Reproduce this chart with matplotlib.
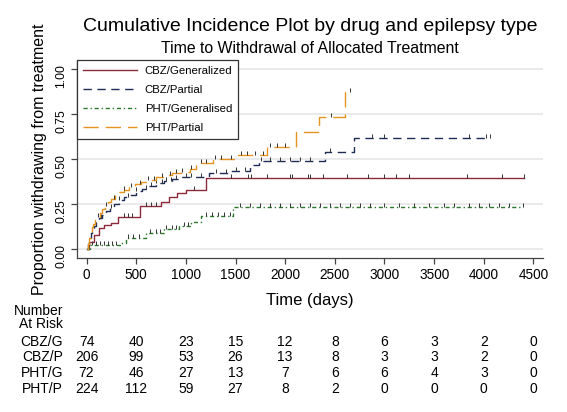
import numpy as np
import matplotlib
matplotlib.use("Agg")
import matplotlib.pyplot as plt
import matplotlib.transforms as mtransforms

plt.rcParams["font.family"] = ["Liberation Sans", "DejaVu Sans"]

# step data (time in days, cumulative incidence)
cbzg_t = [0, 20, 80, 130, 180, 250, 312, 535, 750, 835, 915, 1000, 1205]
cbzg_p = [0, 0.04, 0.078, 0.116, 0.133, 0.146, 0.176, 0.24, 0.263, 0.289, 0.31, 0.328, 0.394]
cbzg_end = 4400
cbzg_cens = [380, 420, 460, 600, 650, 700, 1080, 1456, 1630, 1660, 1821, 2052, 2069,
             2233, 2253, 2384, 2626, 2837, 2998, 3119, 3250, 3833, 4185, 4400]

cbzp_t = [0, 10, 25, 40, 60, 80, 100, 130, 160, 200, 240, 280, 330, 380, 430, 500,
          560, 620, 700, 780, 860, 950, 1237, 1439, 1647, 1740, 2404, 2696]
cbzp_p = [0, 0.03, 0.06, 0.09, 0.11, 0.13, 0.15, 0.17, 0.19, 0.21, 0.23, 0.25, 0.27,
          0.29, 0.30, 0.32, 0.335, 0.35, 0.365, 0.38, 0.39, 0.40, 0.42, 0.435, 0.467,
          0.49, 0.54, 0.615]
cbzp_end = 4062
cbzp_cens = [150, 250, 330, 420, 500, 600, 650, 700, 760, 800, 850, 900, 1000, 1050,
             1150, 1300, 1400, 1500, 1600, 1760, 1850, 1950, 2050, 2150, 2250, 2450,
             2870, 3000, 3850, 4020, 4062]

phtg_t = [0, 30, 332, 400, 600, 785, 935, 1053, 1154, 1472]
phtg_p = [0, 0.022, 0.035, 0.063, 0.087, 0.111, 0.128, 0.15, 0.185, 0.235]
phtg_end = 4390
phtg_cens = [60, 100, 140, 180, 220, 260, 300, 420, 470, 530, 640, 700, 740, 800, 860,
             900, 980, 1020, 1200, 1260, 1320, 1380, 1440, 1550, 1650, 1750, 1850, 1950,
             2050, 2150, 2250, 2350, 2450, 2550, 2650, 2750, 2850, 3000, 3150, 3300,
             3450, 3600, 3700, 3850, 3950, 4050, 4150, 4250, 4390]

phtp_t = [0, 10, 25, 40, 55, 70, 90, 110, 135, 160, 190, 220, 250, 290, 330, 380, 430,
          490, 550, 620, 700, 780, 860, 950, 1040, 1100, 1270, 1506, 1820, 2110, 2344, 2606]
phtp_p = [0, 0.03, 0.06, 0.09, 0.12, 0.14, 0.16, 0.18, 0.20, 0.22, 0.24, 0.26, 0.28,
          0.30, 0.315, 0.33, 0.345, 0.36, 0.37, 0.385, 0.40, 0.41, 0.42, 0.43, 0.445,
          0.476, 0.498, 0.522, 0.565, 0.652, 0.735, 0.87]
phtp_end = 2656
phtp_cens = [120, 200, 280, 380, 450, 540, 620, 680, 760, 840, 900, 960, 1050, 1150,
             1200, 1290, 1350, 1450, 1560, 1620, 1700, 1780, 1850, 1920, 2000, 2460, 2656]

labels = ["CBZ/Generalized", "CBZ/Partial", "PHT/Generalised", "PHT/Partial"]
risk_names = ["CBZ/G", "CBZ/P", "PHT/G", "PHT/P"]
risk_times = [0, 500, 1000, 1500, 2000, 2500, 3000, 3500, 4000, 4500]
risk_cbzg = [74, 40, 23, 15, 12, 8, 6, 3, 2, 0]
risk_cbzp = [206, 99, 53, 26, 13, 8, 3, 3, 2, 0]
risk_phtg = [72, 46, 27, 13, 7, 6, 6, 4, 3, 0]
risk_phtp = [224, 112, 59, 27, 8, 2, 0, 0, 0, 0]

W, H = 567, 412
fig = plt.figure(figsize=(W / 100, H / 100), dpi=100)
ax = fig.add_axes([77 / W, 1 - 258 / H, 466 / W, 198 / H])

colors = ["#8c2a3c", "#1f2d56", "#2b7a2b", "#e69320"]
dashes = [None, (6, 4), (3, 2, 1, 2), (11, 5)]
groups = [(cbzg_t, cbzg_p, cbzg_end, cbzg_cens),
          (cbzp_t, cbzp_p, cbzp_end, cbzp_cens),
          (phtg_t, phtg_p, phtg_end, phtg_cens),
          (phtp_t, phtp_p, phtp_end, phtp_cens)]

for y in [0, 0.25, 0.5, 0.75, 1.0]:
    ax.axhline(y, color="#e8e8e8", lw=1.3, zorder=0)

for (t, p, end, cens), c, d, lab in zip(groups, colors, dashes, labels):
    line, = ax.step(t + [end], p + [p[-1]], where="post", color=c, lw=1.0, label=lab)
    if d is not None:
        line.set_dashes(d)
    # censoring ticks sit on the curve
    idx = np.searchsorted(t, cens, side="right") - 1
    ax.plot(cens, np.array(p)[idx], linestyle="none", marker=2, markersize=3,
            mew=0.7, color="#333333")

ax.set_xlim(-96, 4596)
ax.set_ylim(-0.05, 1.05)
ax.set_xticks(risk_times)
ax.set_yticks([0, 0.25, 0.5, 0.75, 1.0])
ax.set_yticklabels(["0.00", "0.25", "0.50", "0.75", "1.00"])
ax.tick_params(axis="x", labelsize=9.8, length=4, width=0.9, color="#444444", pad=3)
ax.tick_params(axis="y", labelsize=8.8, length=4, width=0.9, color="#444444",
               labelrotation=90, pad=3)
for s in ["top", "right"]:
    ax.spines[s].set_visible(False)
for s in ["left", "bottom"]:
    ax.spines[s].set_color("#444444")
    ax.spines[s].set_linewidth(0.9)

ax.set_xlabel("Time (days)", fontsize=12, va="center")
ax.xaxis.set_label_coords(0.5, (258 - 300) / 198)
ax.set_ylabel("Proportion withdrawing from treatment", fontsize=11.5, va="center")
ax.yaxis.set_label_coords((40 - 77) / 466, 0.5)

leg = ax.legend(loc="upper left", bbox_to_anchor=(0, 1), borderaxespad=0,
                fontsize=8.2, handlelength=4.8, handletextpad=0.65, labelspacing=0.8,
                borderpad=0.5, fancybox=False, framealpha=1, edgecolor="#333333")
leg.get_frame().set_linewidth(0.9)

fig.text(310 / W, 1 - 26.7 / H, "Cumulative Incidence Plot by drug and epilepsy type",
         ha="center", va="center", fontsize=14)
fig.text(310 / W, 1 - 48.3 / H, "Time to Withdrawal of Allocated Treatment",
         ha="center", va="center", fontsize=11.4)

# number at risk table under the axis, columns follow the x scale
fig.text(63 / W, 1 - 310.7 / H, "Number", ha="right", va="center", fontsize=10)
fig.text(63 / W, 1 - 324.3 / H, "At Risk", ha="right", va="center", fontsize=10)
trans = mtransforms.blended_transform_factory(ax.transData, fig.transFigure)
row_y = [341.5, 357, 372.8, 388.6]
for name, counts, ry in zip(risk_names, [risk_cbzg, risk_cbzp, risk_phtg, risk_phtp], row_y):
    fig.text(63 / W, 1 - ry / H, name, ha="right", va="center", fontsize=10)
    for tt, n in zip(risk_times, counts):
        ax.text(tt, 1 - ry / H, str(n), transform=trans, ha="center", va="center",
                fontsize=10, clip_on=False)

fig.savefig("out.png", dpi=100)
